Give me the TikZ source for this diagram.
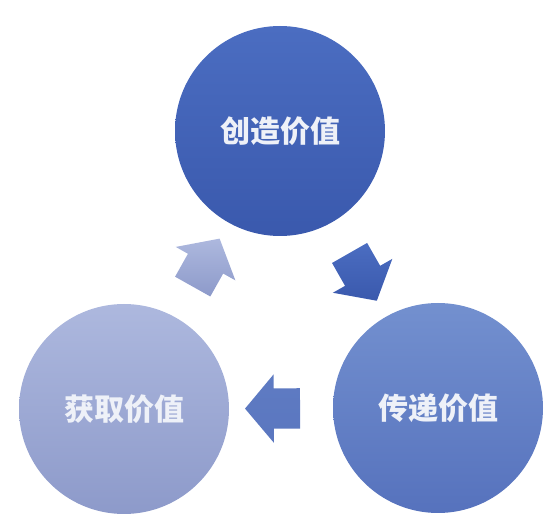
\documentclass[tikz,border=0pt]{standalone}
\usepackage{fontspec}
\newfontfamily\cjk{Noto Sans CJK SC}
\usepackage{tikz}
\usetikzlibrary{positioning, shapes.arrows}

\definecolor{createtop}{HTML}{4B6DC1}
\definecolor{createbot}{HTML}{3A59AD}
\definecolor{delivertop}{HTML}{7390CF}
\definecolor{deliverbot}{HTML}{5672BD}
\definecolor{capturetop}{HTML}{ADB8DE}
\definecolor{capturebot}{HTML}{8D9ACA}
\definecolor{valuetext}{HTML}{EEF1F8}

\begin{document}
\begin{tikzpicture}[x=1pt, y=1pt,
    value/.style={circle, inner sep=0pt, minimum size=210pt, text=valuetext,
                  font=\cjk\bfseries\fontsize{30}{32}\selectfont},
    flow/.style={single arrow, inner xsep=0pt, inner ysep=20pt, minimum height=55pt,
                 minimum width=68pt, single arrow head extend=14pt,
                 single arrow tip angle=100, sloped, allow upside down}]
\useasboundingbox (0,0) rectangle (557,514);

\begin{scope}[every node/.style={value}]
    \node[top color=createtop, bottom color=createbot] (create) at (280,383) {创造价值};
    \node[top color=delivertop, bottom color=deliverbot] (deliver) at (438,106) {传递价值};
    \node[top color=capturetop, bottom color=capturebot] (capture) at (124,105) {获取价值};
\end{scope}

\path (create) -- node[flow, top color=createtop, bottom color=createbot] {} (deliver);
\path (deliver) -- node[flow, top color=deliverbot!70!delivertop, bottom color=deliverbot!85!delivertop] {} (capture);
\path (capture) -- node[flow, top color=capturetop, bottom color=capturebot] {} (create);

\end{tikzpicture}
\end{document}
